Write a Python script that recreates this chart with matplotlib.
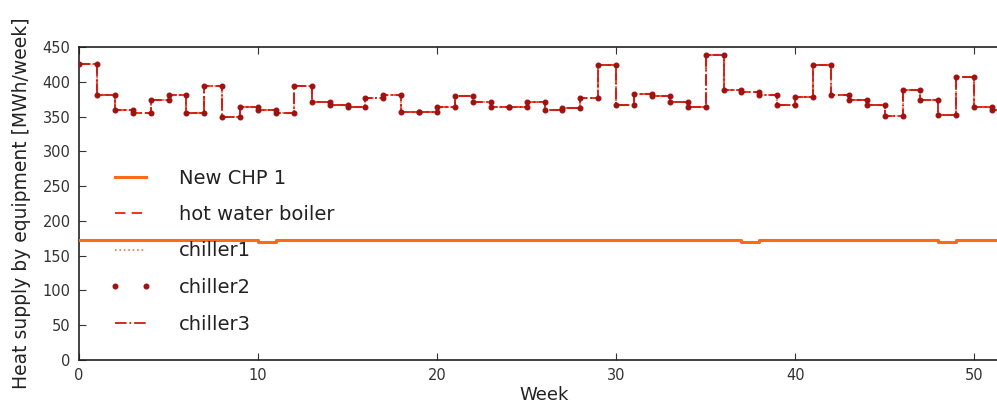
import numpy as np
import matplotlib
matplotlib.use("Agg")
import matplotlib.pyplot as plt

weeks = np.arange(0, 53)  # week edges 0..52

chp = [173] * 52
for w in (10, 37, 48):
    chp[w] = 169

boiler = [425, 381, 360, 355, 374, 381, 355, 394, 350, 364, 360, 355, 394,
          371, 367, 364, 376, 381, 357, 357, 364, 379, 371, 364, 364, 371,
          359, 362, 376, 424, 367, 383, 379, 371, 364, 439, 388, 386, 381,
          367, 378, 424, 381, 374, 367, 351, 388, 374, 352, 407, 364, 359]
chiller1 = boiler
chiller2 = boiler
chiller3 = boiler

labels = ["New CHP 1", "hot water boiler", "chiller1", "chiller2", "chiller3"]
yticks = [0, 50, 100, 150, 200, 250, 300, 350, 400, 450]
xticks = [0, 10, 20, 30, 40, 50]


def stepxy(vals):
    v = np.asarray(vals, dtype=float)
    x = np.column_stack([weeks[:-1], weeks[1:]]).ravel()
    y = np.repeat(v, 2)
    return x, y


W, H = 997, 407
fig = plt.figure(figsize=(W / 100, H / 100), dpi=100)
fig.patch.set_facecolor("white")
ax = fig.add_axes([79 / W, (H - 360) / H, 931 / W, 313 / H])

x, y = stepxy(chp)
ax.plot(x, y, color="#ff6a14", lw=2.2, label=labels[0], zorder=3)
x, y = stepxy(boiler)
ax.plot(x, y, color="#ee3a1c", lw=1.5, ls=(0, (5, 3)), label=labels[1], zorder=3)
x, y = stepxy(chiller1)
ax.plot(x, y, color="#f07050", lw=1.2, ls=":", label=labels[2], zorder=3)
x, y = stepxy(chiller2)
ax.plot(x, y, color="#a01212", ls="none", marker="o", ms=3.3, mec="#a01212",
        label=labels[3], zorder=4)
x, y = stepxy(chiller3)
ax.plot(x, y, color="#c81c18", lw=1.3, ls="-.", label=labels[4], zorder=3)

ax.set_xlim(0, 52)
ax.set_ylim(0, 450)
ax.set_xticks(xticks)
ax.set_yticks(yticks)
ax.tick_params(direction="in", top=True, right=True, length=5, width=0.8,
               labelsize=10.5, colors="#333333", pad=6)
for s in ax.spines.values():
    s.set_linewidth(1.2)
    s.set_color("#222222")

ax.set_xlabel("Week", fontsize=13, color="#222222", labelpad=2)
ax.set_ylabel("Heat supply by equipment [MWh/week]", fontsize=13.5,
              color="#222222", labelpad=8)

leg = ax.legend(loc="center left", bbox_to_anchor=(30 / 931, (360 - 251) / 313),
                frameon=False, fontsize=14, labelspacing=0.9, handlelength=2.2,
                handletextpad=1.4, borderpad=0, borderaxespad=0, numpoints=2)
for t in leg.get_texts():
    t.set_color("#222222")

fig.savefig("out.png", dpi=100, facecolor="white")
